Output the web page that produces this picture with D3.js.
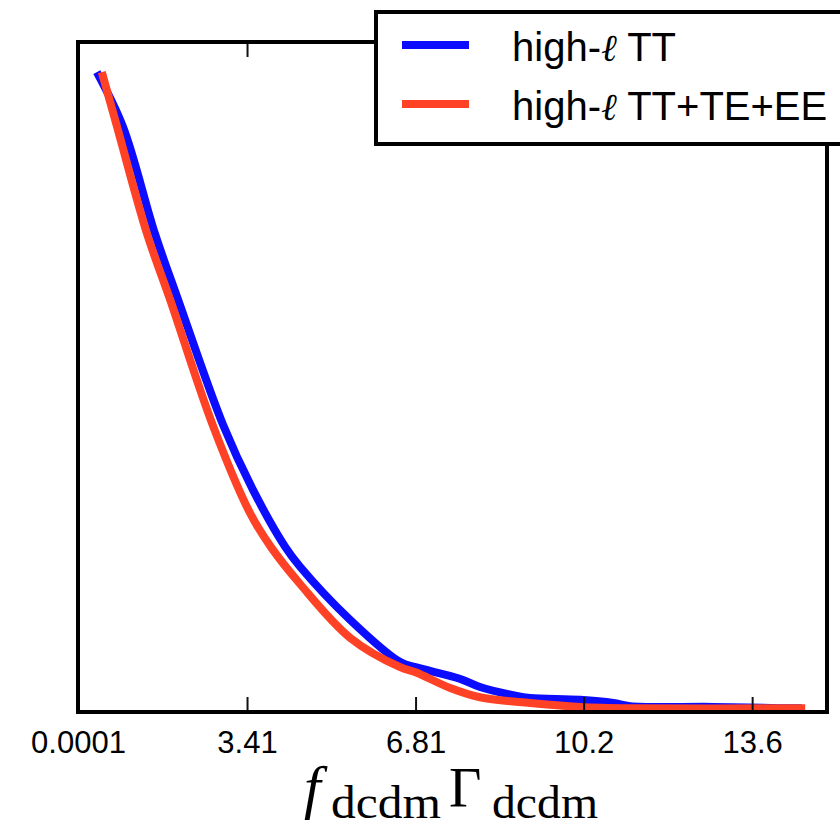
<!DOCTYPE html>
<html>
<head>
<meta charset="utf-8">
<script src="https://cdn.jsdelivr.net/npm/d3@7"></script>
<style>
  body { margin: 0; background: #fff; }
  svg { display: block; }
</style>
</head>
<body>
<svg id="chart"></svg>
<script>
// posterior of f_dcdm * Gamma_dcdm, normalised to peak = 1
const xTT = [0.38, 0.91, 1.55, 2.02, 2.93, 3.53, 4.18, 4.48, 5.49, 6.50, 6.81, 7.70, 8.11, 8.80, 9.12, 10.13, 10.80, 11.14, 12.81, 14.16, 14.60];
const yTT = [1.0, 0.914, 0.748, 0.644, 0.448, 0.347, 0.258, 0.227, 0.144, 0.078, 0.070, 0.052, 0.039, 0.026, 0.022, 0.019, 0.014, 0.009, 0.008, 0.006, 0.006];

const xAll = [0.48, 0.79, 1.39, 1.86, 2.72, 3.47, 3.89, 4.48, 5.49, 6.50, 6.81, 7.51, 8.11, 9.12, 10.13, 11.14, 14.67];
const yAll = [1.0, 0.914, 0.748, 0.644, 0.448, 0.311, 0.258, 0.200, 0.116, 0.070, 0.062, 0.0375, 0.023, 0.014, 0.008, 0.006, 0.006];

const tickValues = [0.0001, 3.41, 6.81, 10.2, 13.6];
const tickLabels = ["0.0001", "3.41", "6.81", "10.2", "13.6"];

const seriesNames = ["TT", "TT+TE+EE"];
const seriesColors = ["#0c0cff", "#ff4126"];

const width = 840, height = 832;
const margin = { left: 78, right: 827, top: 42, bottom: 712 };

const svg = d3.select("#chart")
    .attr("width", width)
    .attr("height", height)
    .style("font-family", "'Liberation Sans', Arial, sans-serif");

const x = d3.scaleLinear().domain([0.0001, 15.11]).range([margin.left, margin.right]);
const y = d3.scaleLinear().domain([0, 1.047]).range([margin.bottom, margin.top]);

const line = d3.line()
    .x(d => x(d[0]))
    .y(d => y(d[1]))
    .curve(d3.curveCatmullRom.alpha(0.5));

const series = [d3.zip(xTT, yTT), d3.zip(xAll, yAll)];

svg.selectAll(".curve")
    .data(series)
    .enter().append("path")
    .attr("class", "curve")
    .attr("d", line)
    .attr("fill", "none")
    .attr("stroke", (d, i) => seriesColors[i])
    .attr("stroke-width", 8)
    .attr("stroke-linejoin", "round");

// ticks point inward, on the bottom and top spines
const axisBottom = svg.append("g")
    .attr("transform", `translate(0,${margin.bottom})`)
    .call(d3.axisBottom(x).tickValues(tickValues).tickSizeInner(-15).tickSizeOuter(0)
        .tickPadding(19).tickFormat((d, i) => tickLabels[i]));
axisBottom.select(".domain").remove();
axisBottom.selectAll(".tick line").attr("stroke", "#111").attr("stroke-width", 2);
axisBottom.selectAll(".tick text")
    .attr("font-size", 31)
    .attr("font-family", "'Liberation Sans', Arial, sans-serif")
    .attr("fill", "#000");

const axisTop = svg.append("g")
    .attr("transform", `translate(0,${margin.top})`)
    .call(d3.axisTop(x).tickValues(tickValues).tickSizeInner(-15).tickSizeOuter(0).tickFormat(""));
axisTop.select(".domain").remove();
axisTop.selectAll(".tick line").attr("stroke", "#111").attr("stroke-width", 2);

// frame
svg.append("rect")
    .attr("x", margin.left).attr("y", margin.top)
    .attr("width", margin.right - margin.left).attr("height", margin.bottom - margin.top)
    .attr("fill", "none")
    .attr("stroke", "#000")
    .attr("stroke-width", 4);

// axis title
const title = svg.append("text")
    .attr("y", 807)
    .attr("font-family", "'Liberation Serif', 'DejaVu Serif', serif")
    .attr("fill", "#000");
title.append("tspan").attr("x", 304).attr("font-size", 60).attr("font-style", "italic").text("f");
title.append("tspan").attr("x", 331).attr("dy", 11).attr("font-size", 46)
    .attr("textLength", 110).attr("lengthAdjust", "spacingAndGlyphs").text("dcdm");
title.append("tspan").attr("x", 449).attr("dy", -11).attr("font-size", 56).text("Γ");
title.append("tspan").attr("x", 492).attr("dy", 11).attr("font-size", 46)
    .attr("textLength", 106).attr("lengthAdjust", "spacingAndGlyphs").text("dcdm");

// legend
const legend = svg.append("g");
legend.append("rect")
    .attr("x", 376).attr("y", 12)
    .attr("width", 500).attr("height", 132)
    .attr("fill", "#fff")
    .attr("stroke", "#000")
    .attr("stroke-width", 4);

const rowY = [45, 104];
seriesNames.forEach((name, i) => {
    legend.append("line")
        .attr("x1", 402).attr("x2", 469)
        .attr("y1", rowY[i]).attr("y2", rowY[i])
        .attr("stroke", seriesColors[i])
        .attr("stroke-width", 8);
    const t = legend.append("text")
        .attr("x", 512).attr("y", rowY[i] + 16)
        .attr("font-size", 40)
        .attr("fill", "#000");
    t.append("tspan").text("high-");
    t.append("tspan").attr("font-family", "'DejaVu Serif', serif").attr("font-style", "italic")
        .attr("font-size", 38).text("ℓ");
    t.append("tspan").text(" " + name);
});
</script>
</body>
</html>
